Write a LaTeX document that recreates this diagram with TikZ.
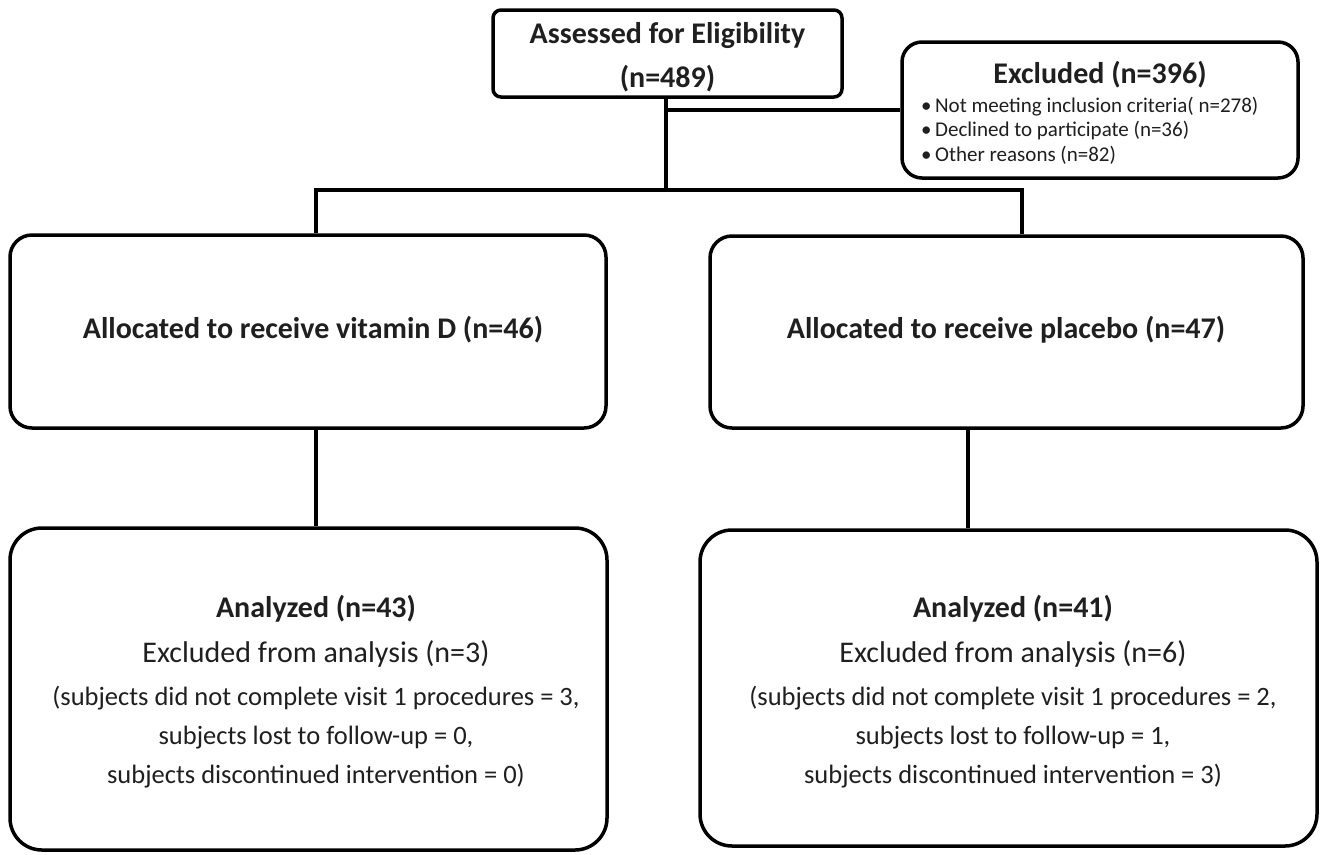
\documentclass[tikz,border=0pt]{standalone}
\usepackage{fontspec}
\setmainfont{Carlito}
\begin{document}
\begin{tikzpicture}[x=1pt,y=-1pt,
  box/.style={draw=black,line width=3.5pt,inner sep=0pt,fill=white},
  conn/.style={draw=black,line width=3.5pt},
  txt/.style={anchor=base,inner sep=0pt,text=black!88},
  bigb/.style={txt,font=\fontsize{30}{34}\selectfont\bfseries},
  midr/.style={txt,font=\fontsize{30}{34}\selectfont},
  smr/.style={txt,font=\fontsize{26.5}{30}\selectfont},
  bul/.style={anchor=base west,inner sep=0pt,text=black!88,font=\fontsize{21}{25}\selectfont}]
\useasboundingbox (0,0) rectangle (1321,854);
% boxes
\node[box,rounded corners=8pt,minimum width=349pt,minimum height=87pt] (top) at (667.5,53.5) {};
\node[box,rounded corners=20pt,minimum width=396pt,minimum height=136pt] (excl) at (1100,110) {};
\node[box,rounded corners=22pt,minimum width=596pt,minimum height=193pt] (allocL) at (308,331.5) {};
\node[box,rounded corners=22pt,minimum width=593pt,minimum height=192pt] (allocR) at (1006.5,332) {};
\node[box,rounded corners=32pt,minimum width=597pt,minimum height=322pt] (analL) at (308.5,689) {};
\node[box,rounded corners=32pt,minimum width=617pt,minimum height=316pt] (analR) at (1008.5,688) {};
% texts
\node[bigb] (t1) at (667.5,43) {Assessed for Eligibility};
\node[bigb] (t2) at (667.5,87) {(n=489)};
\node[bigb] (e0) at (1100,83) {Excluded (n=396)};
\node[bul] (e1) at (921,112) {•\,Not meeting inclusion criteria( n=278)};
\node[bul] (e2) at (921,136) {•\,Declined to participate (n=36)};
\node[bul] (e3) at (921,161) {•\,Other reasons (n=82)};
\node[bigb] (aL) at (313,338) {Allocated to receive vitamin D (n=46)};
\node[bigb] (aR) at (1006,338) {Allocated to receive placebo (n=47)};
\node[bigb] (l1) at (316,617) {Analyzed (n=43)};
\node[midr] (l2) at (316,662) {Excluded from analysis (n=3)};
\node[smr] (l3) at (316,705) {(subjects did not complete visit 1 procedures = 3,};
\node[smr] (l4) at (316,744) {subjects lost to follow-up = 0,};
\node[smr] (l5) at (316,783) {subjects discontinued intervention = 0)};
\node[bigb] (r1) at (1013,617) {Analyzed (n=41)};
\node[midr] (r2) at (1013,662) {Excluded from analysis (n=6)};
\node[smr] (r3) at (1013,705) {(subjects did not complete visit 1 procedures = 2,};
\node[smr] (r4) at (1013,744) {subjects lost to follow-up = 1,};
\node[smr] (r5) at (1013,783) {subjects discontinued intervention = 3)};
% connectors
\coordinate (mid) at (666,190);
\coordinate (jL) at (316,190);
\coordinate (jR) at (1022,190);
\coordinate (kR) at (968,430);
\draw[conn] (mid |- top.south) -- (mid);
\draw[conn] (mid |- excl.west) -- (excl.west);
\draw[conn] ([xshift=-1.75pt]jL) -- ([xshift=1.75pt]jR);
\draw[conn] (jL) -- (jL |- allocL.north);
\draw[conn] (jR) -- (jR |- allocR.north);
\draw[conn] (jL |- allocL.south) -- (jL |- analL.north);
\draw[conn] (kR |- allocR.south) -- (kR |- analR.north);
\end{tikzpicture}
\end{document}
